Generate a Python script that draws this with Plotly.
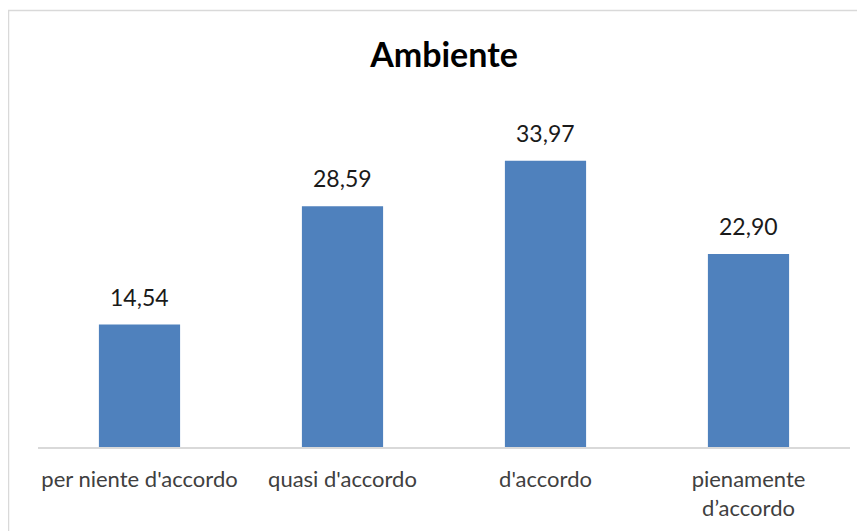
import plotly.graph_objects as go

categories = ["per niente d'accordo", "quasi d'accordo", "d'accordo", "pienamente<br>d’accordo"]
values = [14.54, 28.59, 33.97, 22.90]
value_labels = [f"{v:.2f}".replace(".", ",") for v in values]

FONT = "Lato, Calibri, Carlito, sans-serif"

# page has an 8px body margin; plot area in figure coords: x 30..842, y 102..439
L, T, PW, PH = 30, 102, 812, 337
W, H = 865, 531

fig = go.Figure()
fig.add_trace(go.Bar(
    x=categories, y=values,
    marker=dict(color="#4F81BD", line=dict(width=0)),
    width=0.4, hoverinfo="skip",
))

for c, v, t in zip(categories, values, value_labels):
    fig.add_annotation(x=c, y=v, text=t, showarrow=False, yanchor="bottom",
                       yshift=12, font=dict(family=FONT, size=23, color="#1a1a1a"))

fig.update_layout(
    width=W, height=H,
    margin=dict(l=L, r=W - L - PW, t=T, b=H - T - PH),
    paper_bgcolor="white", plot_bgcolor="white",
    showlegend=False,
    title=dict(text="<b>Ambiente</b>", x=(L + PW / 2) / W, xanchor="center", y=1 - 47 / H, yanchor="middle",
               font=dict(family=FONT, size=34, color="black")),
    xaxis=dict(showline=True, linecolor="#D9D9D9", linewidth=2, showgrid=False,
               ticks="outside", ticklen=12, tickcolor="rgba(0,0,0,0)",
               tickfont=dict(family=FONT, size=22, color="#404040"), fixedrange=True),
    yaxis=dict(range=[0, 40], visible=False, showgrid=False, zeroline=False, fixedrange=True),
    shapes=[dict(type="rect", xref="paper", yref="paper",
                 x0=(0.5 - L) / PW, x1=(W + 20 - L) / PW,
                 y0=(T + PH - (H + 20)) / PH, y1=(T + PH - 2.5) / PH,
                 line=dict(color="#D9D9D9", width=1.5), layer="below")],
)

fig.write_html("out.html")
